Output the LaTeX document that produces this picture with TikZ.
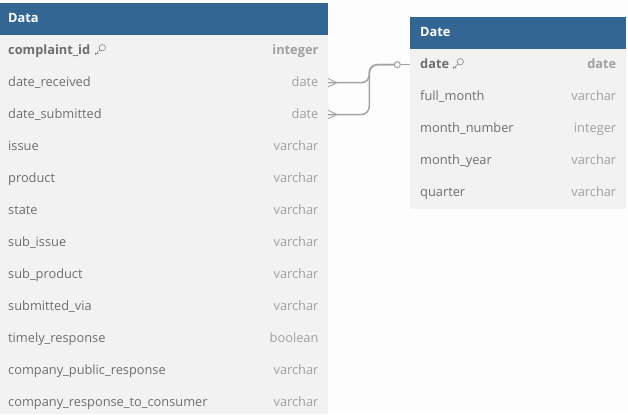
\documentclass[tikz,border=0pt]{standalone}
\usepackage{fontspec}
\setmainfont{Open Sans}
\definecolor{hdr}{HTML}{346694}
\definecolor{bodyc}{HTML}{F2F2F2}
\definecolor{bg}{HTML}{FDFDFD}
\definecolor{namec}{HTML}{6E6E6E}
\definecolor{typec}{HTML}{A0A0A0}
\definecolor{linkc}{HTML}{A3A3A8}
\begin{document}
\begin{tikzpicture}[x=1bp,y=-1bp,
  title/.style={font=\fontsize{12.8bp}{15bp}\selectfont\bfseries,text=white,anchor=base west,inner sep=0pt},
  fname/.style={font=\fontsize{12.8bp}{15bp}\selectfont,text=namec,anchor=base west,inner sep=0pt},
  ftype/.style={font=\fontsize{12.8bp}{15bp}\selectfont,text=typec,anchor=base east,inner sep=0pt},
  pkname/.style={fname,font=\fontsize{12.8bp}{15bp}\selectfont\bfseries},
  pktype/.style={ftype,font=\fontsize{12.8bp}{15bp}\selectfont\bfseries},
  link/.style={draw=linkc,line width=1.5bp},
  keyicon/.style={draw=namec!85,line width=0.6bp},
  pics/keysym/.style={code={
    \draw[keyicon] (1.8,-1.8) circle[radius=3.2bp];
    \draw[keyicon] (-0.4,0.4) -- (-5,5) -- (-5,3.2) (-3.6,3.6) -- (-2.4,4.6);
  }}]
\useasboundingbox (0,0) rectangle (628,414);
\fill[bg] (0,0) rectangle (628,414);
% Data table
\fill[bodyc] (0,35) rectangle (328,414);
\fill[hdr] (0,3) rectangle (328,35);
\node[title] (datat) at (8,22) {Data};
\node[pkname] (n1) at (8,54) {complaint\_id};
\pic at (100.5,49.5) {keysym};
\node[pktype] (t1) at (318.6,54) {integer};
\foreach \nm/\ty/\yy/\id in {date\_received/date/86/2,date\_submitted/date/118/3,issue/varchar/150/4,product/varchar/182/5,state/varchar/214/6,sub\_issue/varchar/246/7,sub\_product/varchar/278/8,submitted\_via/varchar/310/9,timely\_response/boolean/342/10,company\_public\_response/varchar/374/11,company\_response\_to\_consumer/varchar/406/12}{
  \node[fname] (n\id) at (8,\yy) {\nm};
  \node[ftype] (t\id) at (318.6,\yy) {\ty};
}
% Date table
\fill[bodyc] (410,49) rectangle (626,209);
\fill[hdr] (410,17) rectangle (626,49);
\node[title] (datet) at (420,36) {Date};
\node[pkname] (m1) at (420,68) {date};
\pic at (458.5,63.5) {keysym};
\node[pktype] (u1) at (616.4,68) {date};
\foreach \nm/\ty/\yy/\id in {full\_month/varchar/100/2,month\_number/integer/132/3,month\_year/varchar/164/4,quarter/varchar/196/5}{
  \node[fname] (m\id) at (420,\yy) {\nm};
  \node[ftype] (u\id) at (616.4,\yy) {\ty};
}
% connectors
\coordinate (a) at (328,82.7);
\coordinate (b) at (328,114.5);
\coordinate (c) at (410,64.7);
\node[circle,draw=linkc,line width=1.1bp,fill=bg,minimum size=6bp,inner sep=0pt] (dot) at (397.3,64.7) {};
\draw[link,rounded corners=8bp] (a) -- (369.3,82.7) |- (dot);
\draw[link,rounded corners=8bp] (b) -- (369.3,114.5) |- (dot);
\draw[link] (dot) -- (c);
\draw[draw=linkc,line width=0.9bp] (328,78.5) -- (337,82.7) -- (328,86.9);
\draw[draw=linkc,line width=0.9bp] (328,110.3) -- (337,114.5) -- (328,118.7);
\end{tikzpicture}
\end{document}
